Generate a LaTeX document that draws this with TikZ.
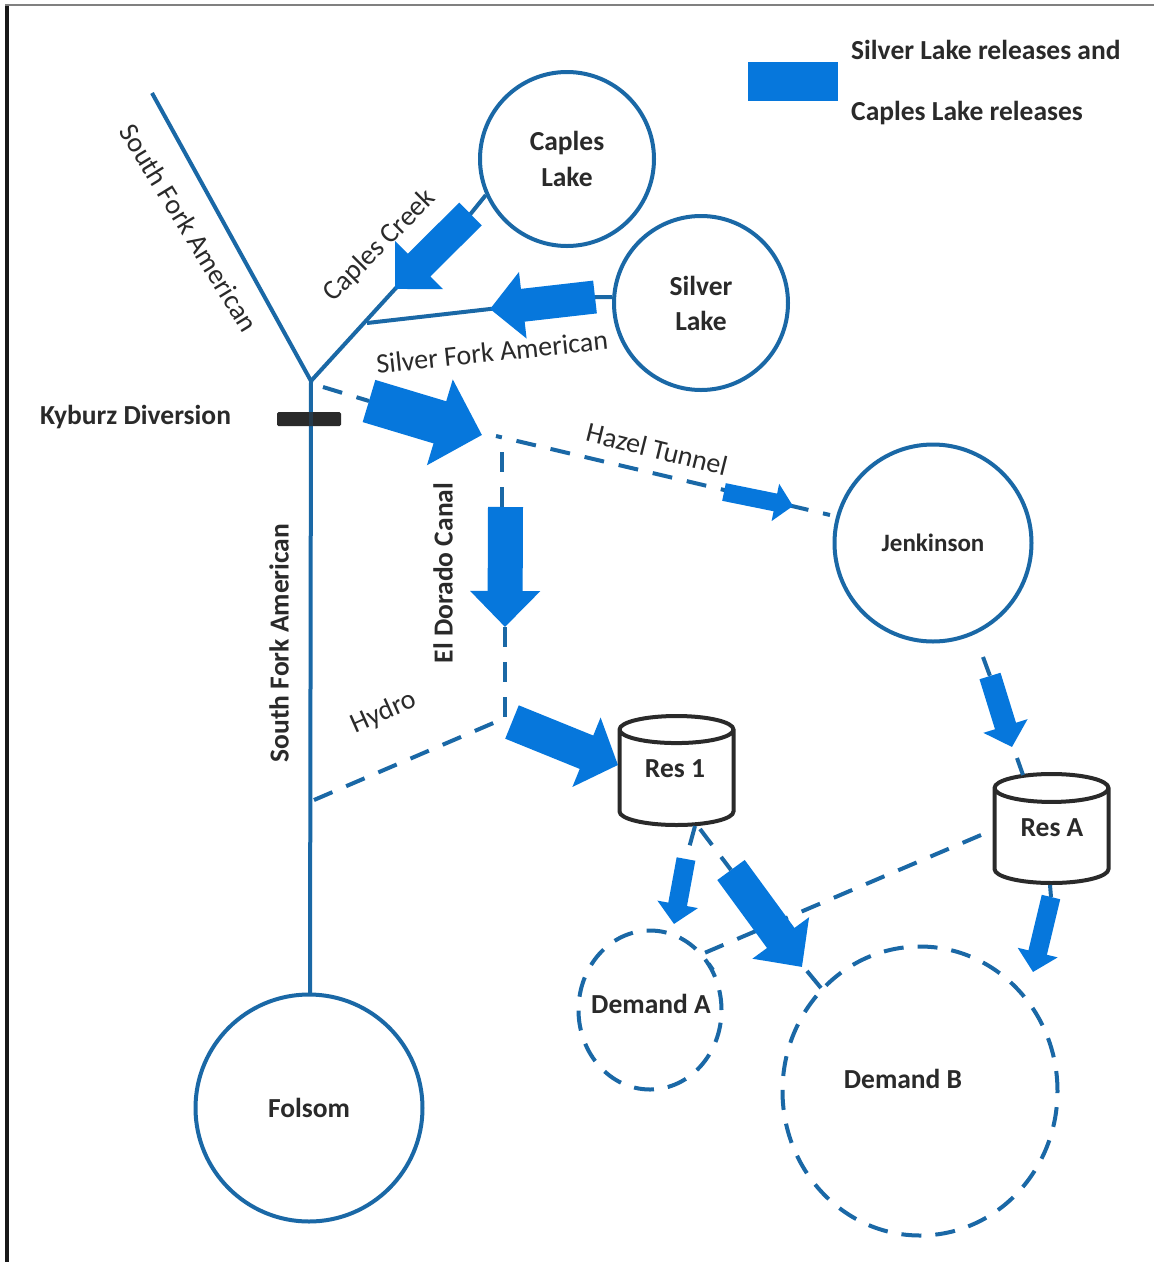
\documentclass[tikz,border=0pt]{standalone}
\usepackage{fontspec}
\setmainfont{Carlito}
\usetikzlibrary{arrows.meta,shapes.geometric}
\definecolor{ln}{HTML}{1A68A6}
\definecolor{fl}{HTML}{0677DC}
\definecolor{ink}{HTML}{2A2A2A}
\tikzset{
 x=1pt,y=-1pt,
 every node/.style={font=\fontsize{28}{33}\selectfont,text=ink},
 lbl/.style={font=\fontsize{27.5}{33}\selectfont\bfseries,text=ink},
 pond/.style={circle,draw=ln,line width=4pt,inner sep=0pt,align=center,minimum size=#1,lbl},
 dpond/.style n args={2}{ellipse,draw=ln,line width=4pt,inner sep=0pt,minimum width=#1,minimum height=#2,dash pattern=on 20pt off 14pt},
 res/.style={cylinder,anchor=shape center,shape border rotate=90,aspect=0.45,draw=ink,line width=4pt,minimum width=114pt,minimum height=109pt,inner sep=0pt},
 river/.style={draw=ln,line width=4pt},
 canal/.style={draw=ln,line width=4pt,dash pattern=on 20pt off 15pt},
 flow/.style n args={3}{draw=fl,line width=#1,-{Triangle[length=#3,width=#2]}},
}
\begin{document}
\begin{tikzpicture}
\useasboundingbox (0,0) rectangle (1154,1262);
\fill[white] (0,0) rectangle (1154,1262);
\draw[black!90,line width=4.5pt] (7,5) -- (7,1262);
\draw[black!50,line width=2pt] (5,5) -- (1154,5);

\node[pond=174pt] (caples) at (567,159) {Caples\\[3pt]Lake};
\node[pond=174pt] (silver) at (701,303) {Silver\\[2pt]Lake};
\node[pond=197pt,font=\fontsize{25}{30}\selectfont\bfseries] (jenk) at (933,543) {Jenkinson};
\node[pond=227pt] (folsom) at (309,1108) {Folsom};
\node[dpond={143pt}{159pt}] (dema) at (650,1010) {};
\node[dpond={275pt}{289pt}] (demb) at (920,1091) {};
\node[lbl] (tdema) at (651,1004) {Demand A};
\node[lbl] (tdemb) at (903,1079) {Demand B};
\node[res] (res1) at (676.5,770.5) {\phantom{Res 1}};
\node[res] (resa) at (1051.5,828.5) {\phantom{Res A}};
\node[lbl] (tres1) at (675,769) {Res 1};
\node[lbl] (tresa) at (1052,828) {Res A};

\coordinate (top) at (152,93);
\coordinate (junc) at (311,381);
\coordinate (fol) at (310,994);
\coordinate (silj) at (367,323);
\coordinate (hazels) at (496,436);
\coordinate (hazele) at (830,515);
\coordinate (canals) at (502,452);
\coordinate (hydroin) at (314,800);
\coordinate (hydrob) at (505,720);
\coordinate (hydros) at (498,721);
\coordinate (jucs) at (323,387);
\coordinate (dAout) at (981,835);
\coordinate (dA) at (702,954);
\coordinate (dAend) at (713,970);
\coordinate (dBs) at (807,971);
\coordinate (dB) at (821,988);
\coordinate (a1) at (470.5,214); \coordinate (b1) at (395,289);
\coordinate (a2) at (595,297); \coordinate (b2) at (490,309);
\coordinate (a3) at (369,401); \coordinate (b3) at (482,435);
\coordinate (a4) at (505.5,507); \coordinate (b4) at (505,627);
\coordinate (a5) at (512,722); \coordinate (b5) at (618,765);
\coordinate (a6) at (724,492); \coordinate (b6) at (793,506);
\coordinate (a7) at (990,676); \coordinate (b7) at (1012,747);
\coordinate (a8) at (686,859); \coordinate (b8) at (674,924);
\coordinate (a9) at (731,870); \coordinate (b9) at (802,967);
\coordinate (a10) at (1051,897); \coordinate (b10) at (1033,972);
\coordinate (j1) at (983,657);
\coordinate (j2) at (1017,758);
\coordinate (j3) at (1023,775);
\coordinate (r1b) at (695,826);
\coordinate (r2b) at (700,829);
\coordinate (rab) at (1050,885);

\draw[river] (top) -- (junc) -- (fol);
\draw[river] (junc) -- (b1) -- (a1) -- (caples.204);
\draw[river] (silj) -- (b2) -- (a2) -- (silver.west |- a2);

\fill[ink,rounded corners=1.5pt] (277,412) rectangle (341,426);
\draw[ln,line width=4pt,opacity=.25] (311,412) -- (311,426);

\draw[canal] (jucs) -- (a3);
\draw[canal,dash phase=14pt] (hazels) -- (hazele);
\draw[canal] (canals) -- (a4 -| canals);
\draw[canal] (b4) -- (hydrob);
\draw[canal] (hydroin) -- (hydros);
\draw[canal] (r1b) -- (a8);
\draw[canal] (r2b) -- (a9);
\draw[river] (dBs) -- (dB);
\draw[canal] (dAout) -- (dA) -- (dAend);
\draw[canal] (j1) -- (a7);
\draw[river] (j2) -- (j3);
\draw[river] (rab) -- (a10);

\draw[flow={32pt}{66pt}{34pt}] (a1) -- (b1);
\draw[flow={33pt}{65pt}{33pt}] (a2) -- (b2);
\draw[flow={44pt}{87pt}{44pt}] (a3) -- (b3);
\draw[flow={35pt}{68pt}{36pt}] (a4) -- (b4);
\draw[flow={36pt}{73pt}{34pt}] (a5) -- (b5);
\draw[flow={18pt}{37pt}{18pt}] (a6) -- (b6);
\draw[flow={22pt}{45pt}{22pt}] (a7) -- (b7);
\draw[flow={19pt}{40pt}{20pt}] (a8) -- (b8);
\draw[flow={34pt}{68pt}{36pt}] (a9) -- (b9);
\draw[flow={19pt}{40pt}{20pt}] (a10) -- (b10);

\fill[fl] (748,62) rectangle (838,100.5);
\node[lbl,anchor=west,inner sep=0pt] (k1) at (851,50) {Silver Lake releases and};
\node[lbl,anchor=west,inner sep=0pt] (k2) at (851,113) {Caples Lake releases};
\node[lbl,anchor=west,inner sep=0pt] (ky) at (40,417) {Kyburz Diversion};
\node[rotate=-58.5] (t1) at (189,228) {South Fork American};
\node[rotate=45] (t2) at (380,246) {Caples Creek};
\node[rotate=6] (t3) at (492,352) {Silver Fork American};
\node[rotate=-14] (t4) at (657,449) {Hazel Tunnel};
\node[lbl,rotate=90] (t5) at (443,573) {El Dorado Canal};
\node[lbl,rotate=90] (t6) at (279,643) {South Fork American};
\node[rotate=24] (t7) at (384,713) {Hydro};
\end{tikzpicture}
\end{document}
